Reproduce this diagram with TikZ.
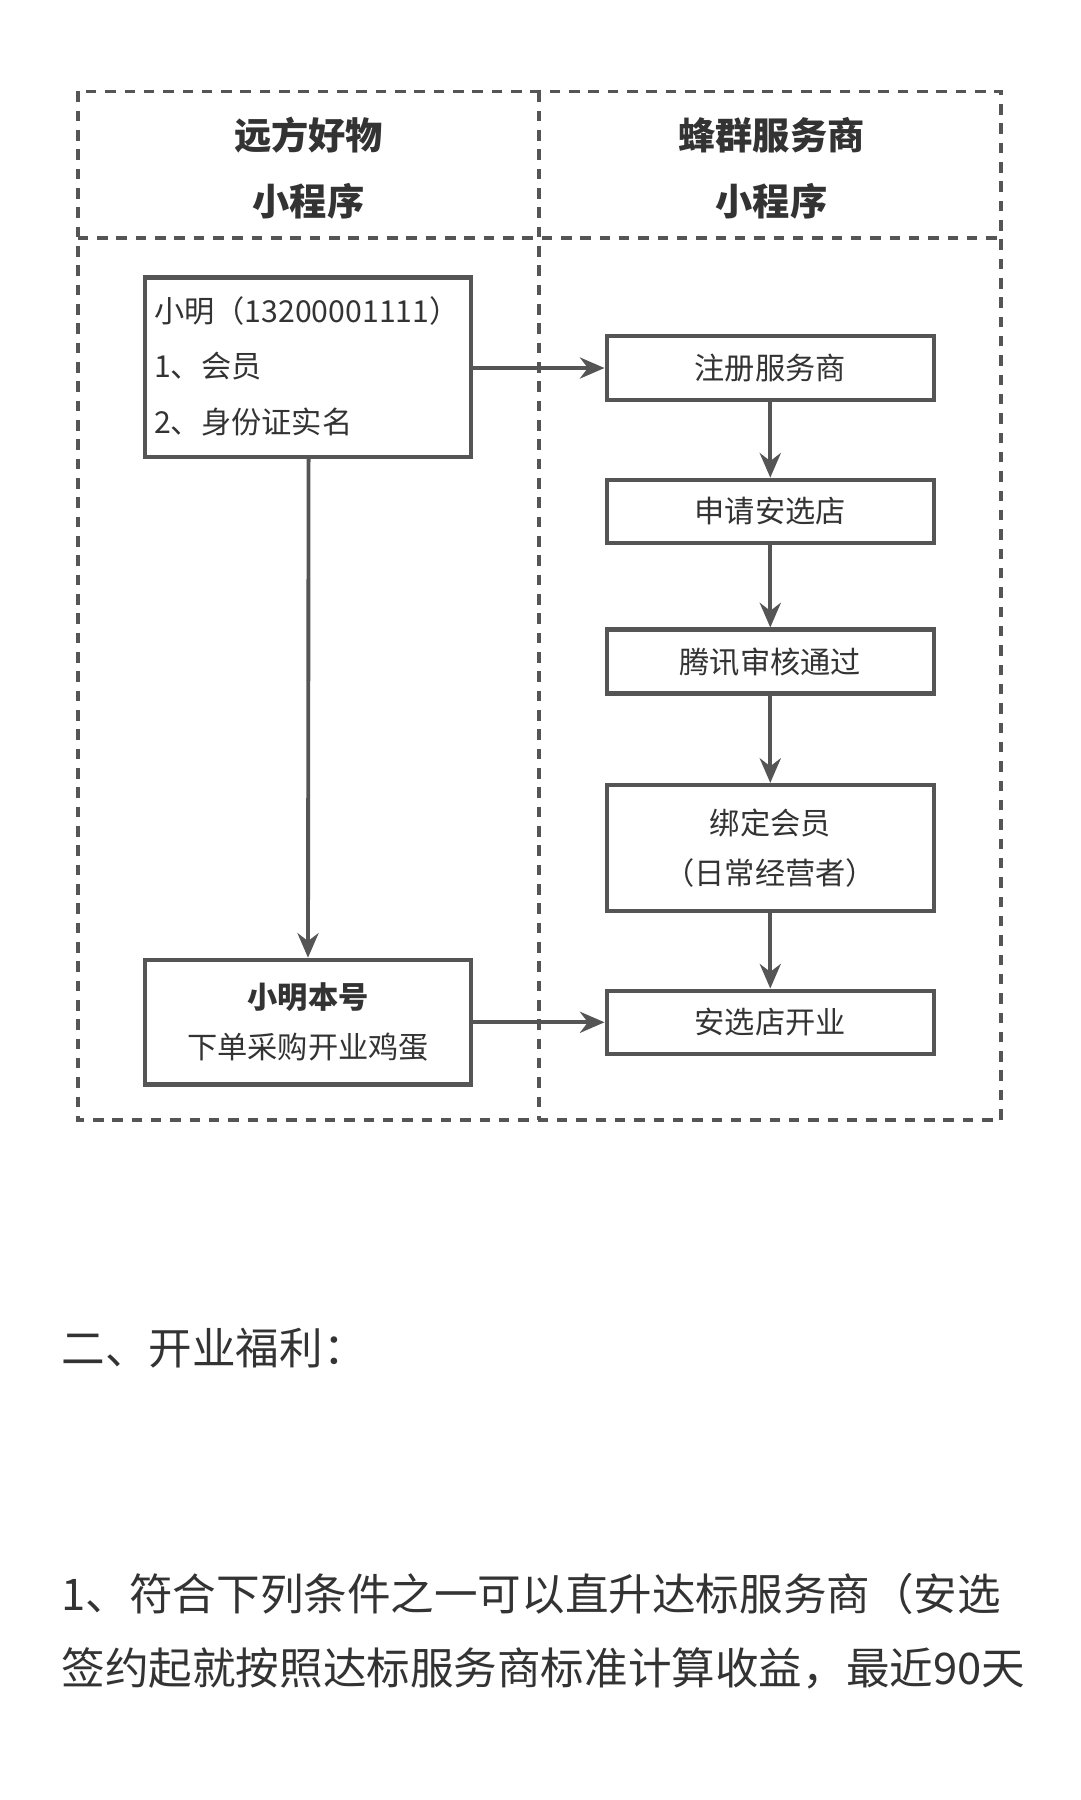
\documentclass[tikz,border=0pt]{standalone}
\usepackage{fontspec}
\setmainfont{Noto Sans CJK SC}
\usetikzlibrary{arrows.meta}
\definecolor{ln}{HTML}{555555}
\definecolor{tx}{HTML}{333333}
\begin{document}
\begin{tikzpicture}[x=0.011429cm,y=-0.011429cm,
 box/.style={draw=ln,line width=1.3pt,text=tx,font=\fontsize{8.6pt}{10pt}\selectfont},
 arr/.style={draw=ln,line width=1.1pt,-{Stealth[length=7pt,width=6pt]}},
 dsh/.style={draw=ln,line width=1.1pt,dash pattern=on 3pt off 2.5pt},
 head/.style={text=tx,font=\fontsize{10.6pt}{12pt}\selectfont\bfseries},
 lt/.style={text=tx,anchor=west,font=\fontsize{8.6pt}{10pt}\selectfont},
 body/.style={text=tx,anchor=west,font=\fontsize{12.4pt}{14pt}\selectfont}]
\useasboundingbox[fill=white] (0,0) rectangle (945,1575);
\draw[dsh] (68,80) rectangle (876,980);
\draw[dsh] (472,80) -- (472,980);
\draw[dsh] (68,208) -- (876,208);
\node[head] (h1) at (270,118) {远方好物};
\node[head] (h2) at (270,176) {小程序};
\node[head] (h3) at (675,118) {蜂群服务商};
\node[head] (h4) at (675,176) {小程序};
\node[box,minimum width=3.257cm,minimum height=1.794cm] (b1) at (269.5,321.5) {};
\coordinate (b1r) at (412,322); \coordinate (b1b) at (270,400);
\node[lt] (t1) at (124,272) {小明（13200001111）};
\node[lt] (t2) at (124,320) {1、会员};
\node[lt] (t3) at (124,369) {2、身份证实名};
\node[box,minimum width=3.27cm,minimum height=0.64cm] (r1) at (674,322) {注册服务商};
\node[box,minimum width=3.27cm,minimum height=0.63cm] (r2) at (674,447.5) {申请安选店};
\node[box,minimum width=3.27cm,minimum height=0.64cm] (r3) at (674,579) {腾讯审核通过};
\node[box,minimum width=3.27cm,minimum height=1.257cm,align=center] (r4) at (674,742) {绑定会员\\[0.15cm]（日常经营者）};
\node[box,minimum width=3.27cm,minimum height=0.63cm] (r5) at (674,894.5) {安选店开业};
\node[box,minimum width=3.257cm,minimum height=1.246cm,align=center] (b2) at (269.5,894.5) {\textbf{小明本号}\\[0.15cm]下单采购开业鸡蛋};
\draw[arr] (b1r) -- (r1.west);
\draw[arr] (b1b) -- (b2.north);
\draw[arr] (r1) -- (r2);
\draw[arr] (r2) -- (r3);
\draw[arr] (r3) -- (r4);
\draw[arr] (r4) -- (r5);
\draw[arr] (b2) -- (r5);
\node[body] (p1) at (43,1180) {二、开业福利：};
\node[body] (p2) at (43,1395) {1、符合下列条件之一可以直升达标服务商（安选};
\node[body] (p3) at (43,1460) {签约起就按照达标服务商标准计算收益，最近90天};
\end{tikzpicture}
\end{document}
